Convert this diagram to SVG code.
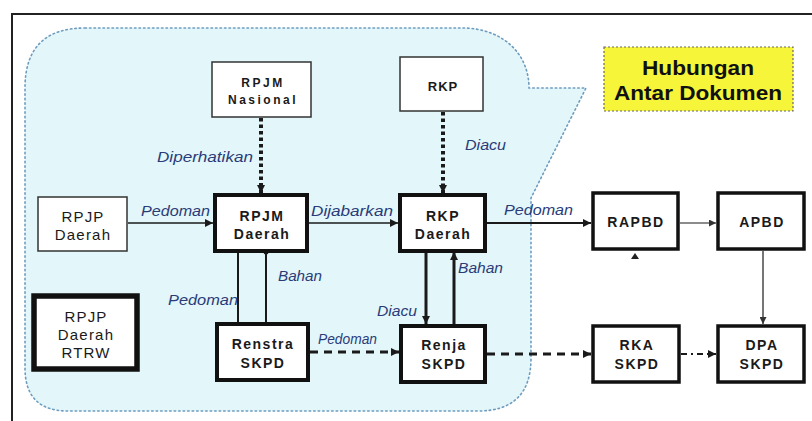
<svg xmlns="http://www.w3.org/2000/svg" width="812" height="421" viewBox="0 0 812 421">
<style>
.bg{fill:#ffffff}
.frame{fill:none;stroke:#222;stroke-width:2}
.cloud{fill:#e3f6fa;stroke:#6d9cbf;stroke-width:1.6;stroke-dasharray:1.5 3;stroke-linecap:round}
.note{fill:#f6f53a;stroke:#666;stroke-width:1.2;stroke-dasharray:2 2}
.thin{fill:#fff;stroke:#333;stroke-width:1.5}
.thick{fill:#fff;stroke:#111;stroke-width:4}
.heavy{fill:#fff;stroke:#111;stroke-width:5.5}
.t{font-family:"Liberation Sans",Arial,sans-serif;font-weight:bold;font-size:14px;fill:#1a1a1a;text-anchor:middle;letter-spacing:1.5px}
.tn{font-family:"Liberation Sans",Arial,sans-serif;font-size:15px;fill:#1a1a1a;text-anchor:middle;letter-spacing:1.2px}
.big{font-family:"Liberation Sans",Arial,sans-serif;font-weight:bold;font-size:20px;fill:#111;text-anchor:middle}
.lbl{font-family:"Liberation Sans",Arial,sans-serif;font-style:italic;font-size:14px;fill:#2a3c78}
.c{fill:none;stroke:#1a1a1a}
</style>
<defs>
<marker id="ah" viewBox="0 0 10 10" refX="10" refY="5" markerWidth="8" markerHeight="8" markerUnits="userSpaceOnUse" orient="auto"><path d="M0,0 L10,5 L0,10 z" fill="#1a1a1a"/></marker>
<marker id="ahs" viewBox="0 0 10 10" refX="10" refY="5" markerWidth="7" markerHeight="7" markerUnits="userSpaceOnUse" orient="auto"><path d="M0,0 L10,5 L0,10 z" fill="#333"/></marker>
</defs>
<rect class="bg" x="0" y="0" width="812" height="421"/>
<path class="frame" d="M12 421 L12 14 L812 14"/>
<g id="cloud">
<path class="cloud" d="M85 28 L466 28 C505 30 529 55 529 88 L586 88 L531 198 L531 358 Q531 411 478 411 L68 411 Q25 411 25 368 L25 88 Q25 28 85 28 Z"/>
</g>
<g id="title">
<rect class="note" x="604" y="47" width="189" height="64"/>
<text class="big" x="698" y="75" textLength="112" lengthAdjust="spacingAndGlyphs">Hubungan</text>
<text class="big" x="698" y="100" textLength="168" lengthAdjust="spacingAndGlyphs">Antar Dokumen</text>
</g>
<g id="connectors">
<line class="c" x1="261" y1="118" x2="261" y2="193" stroke-width="4" stroke-dasharray="3.5 3" marker-end="url(#ah)"/>
<line class="c" x1="443" y1="112" x2="443" y2="193" stroke-width="4" stroke-dasharray="3.5 3" marker-end="url(#ah)"/>
<line class="c" x1="128" y1="223" x2="213" y2="223" stroke-width="1.5" marker-end="url(#ah)"/>
<line class="c" x1="309" y1="223" x2="398" y2="223" stroke-width="1.5" marker-end="url(#ah)"/>
<line class="c" x1="487" y1="223" x2="591" y2="223" stroke-width="2" marker-end="url(#ah)"/>
<line class="c" x1="680" y1="223" x2="716" y2="223" stroke="#444" stroke-width="1.2" marker-end="url(#ahs)"/>
<line class="c" x1="763" y1="251" x2="763" y2="324" stroke="#444" stroke-width="1.2" marker-end="url(#ahs)"/>
<path d="M635 253 L631 259 L639 259 Z" fill="#222"/>
<line class="c" x1="238" y1="253" x2="238" y2="322" stroke-width="2"/>
<line class="c" x1="266" y1="253" x2="266" y2="322" stroke-width="2"/>
<circle cx="266" cy="252" r="2.5" fill="#1a1a1a"/>
<line class="c" x1="426" y1="252" x2="426" y2="324" stroke-width="3" marker-end="url(#ah)"/>
<line class="c" x1="454" y1="324" x2="454" y2="252" stroke-width="3" marker-end="url(#ah)"/>
<line class="c" x1="310" y1="352" x2="399" y2="352" stroke-width="3" stroke-dasharray="8 6" marker-end="url(#ah)"/>
<line class="c" x1="487" y1="354" x2="591" y2="354" stroke-width="3" stroke-dasharray="8 6" marker-end="url(#ah)"/>
<line class="c" x1="681" y1="354" x2="716" y2="354" stroke-width="2" stroke-dasharray="6 4 2 4" marker-end="url(#ah)"/>
<text class="lbl" x="157" y="162" textLength="96" lengthAdjust="spacingAndGlyphs">Diperhatikan</text>
<text class="lbl" x="465" y="150" textLength="41" lengthAdjust="spacingAndGlyphs" fill="#3a5a98">Diacu</text>
<text class="lbl" x="141" y="216" textLength="69" lengthAdjust="spacingAndGlyphs">Pedoman</text>
<text class="lbl" x="311" y="216" textLength="82" lengthAdjust="spacingAndGlyphs">Dijabarkan</text>
<text class="lbl" x="504" y="215" textLength="69" lengthAdjust="spacingAndGlyphs">Pedoman</text>
<text class="lbl" x="278" y="281" textLength="44" lengthAdjust="spacingAndGlyphs">Bahan</text>
<text class="lbl" x="168" y="305" textLength="70" lengthAdjust="spacingAndGlyphs">Pedoman</text>
<text class="lbl" x="377" y="316" textLength="40" lengthAdjust="spacingAndGlyphs">Diacu</text>
<text class="lbl" x="458" y="273" textLength="45" lengthAdjust="spacingAndGlyphs">Bahan</text>
<text class="lbl" x="318" y="344" textLength="59" lengthAdjust="spacingAndGlyphs">Pedoman</text>
</g>
<g id="rpjm-nasional">
<rect class="thin" x="212" y="62" width="99" height="55"/>
<text class="t" x="263" y="87" style="font-size:12px;letter-spacing:2.5px">RPJM</text>
<text class="t" x="263" y="104" style="font-size:12px;letter-spacing:2.5px">Nasional</text>
</g>
<g id="rkp">
<rect class="thin" x="400" y="57" width="83" height="54"/>
<text class="t" x="443" y="91" style="font-size:13px;letter-spacing:1px">RKP</text>
</g>
<g id="rpjp-daerah">
<rect class="thin" x="38" y="197" width="89" height="54"/>
<text class="tn" x="83" y="222">RPJP</text>
<text class="tn" x="83" y="240">Daerah</text>
</g>
<g id="rpjm-daerah">
<rect class="thick" x="215" y="195" width="92" height="56"/>
<text class="t" x="262" y="221">RPJM</text>
<text class="t" x="262" y="239">Daerah</text>
</g>
<g id="rkp-daerah">
<rect class="thick" x="400" y="195" width="85" height="56"/>
<text class="t" x="443" y="221">RKP</text>
<text class="t" x="443" y="239">Daerah</text>
</g>
<g id="rpjp-rtrw">
<rect class="heavy" x="34" y="296" width="103" height="73"/>
<text class="tn" x="86" y="322">RPJP</text>
<text class="tn" x="86" y="340">Daerah</text>
<text class="tn" x="86" y="358">RTRW</text>
</g>
<g id="renstra-skpd">
<rect class="thick" x="217" y="324" width="91" height="56"/>
<text class="t" x="263" y="349">Renstra</text>
<text class="t" x="263" y="368">SKPD</text>
</g>
<g id="renja-skpd">
<rect class="thick" x="401" y="326" width="84" height="56"/>
<text class="t" x="444" y="350">Renja</text>
<text class="t" x="444" y="369">SKPD</text>
</g>
<g id="rapbd">
<rect class="thick" x="593" y="193" width="85" height="56" style="stroke-width:3.5"/>
<text class="t" x="636" y="227">RAPBD</text>
</g>
<g id="apbd">
<rect class="thick" x="718" y="193" width="86" height="56" style="stroke-width:3.5"/>
<text class="t" x="762" y="227">APBD</text>
</g>
<g id="rka-skpd">
<rect class="thick" x="593" y="326" width="86" height="56" style="stroke-width:3.5"/>
<text class="t" x="637" y="350">RKA</text>
<text class="t" x="637" y="369">SKPD</text>
</g>
<g id="dpa-skpd">
<rect class="thick" x="718" y="326" width="86" height="56" style="stroke-width:3.5"/>
<text class="t" x="762" y="350">DPA</text>
<text class="t" x="762" y="369">SKPD</text>
</g>
</svg>
